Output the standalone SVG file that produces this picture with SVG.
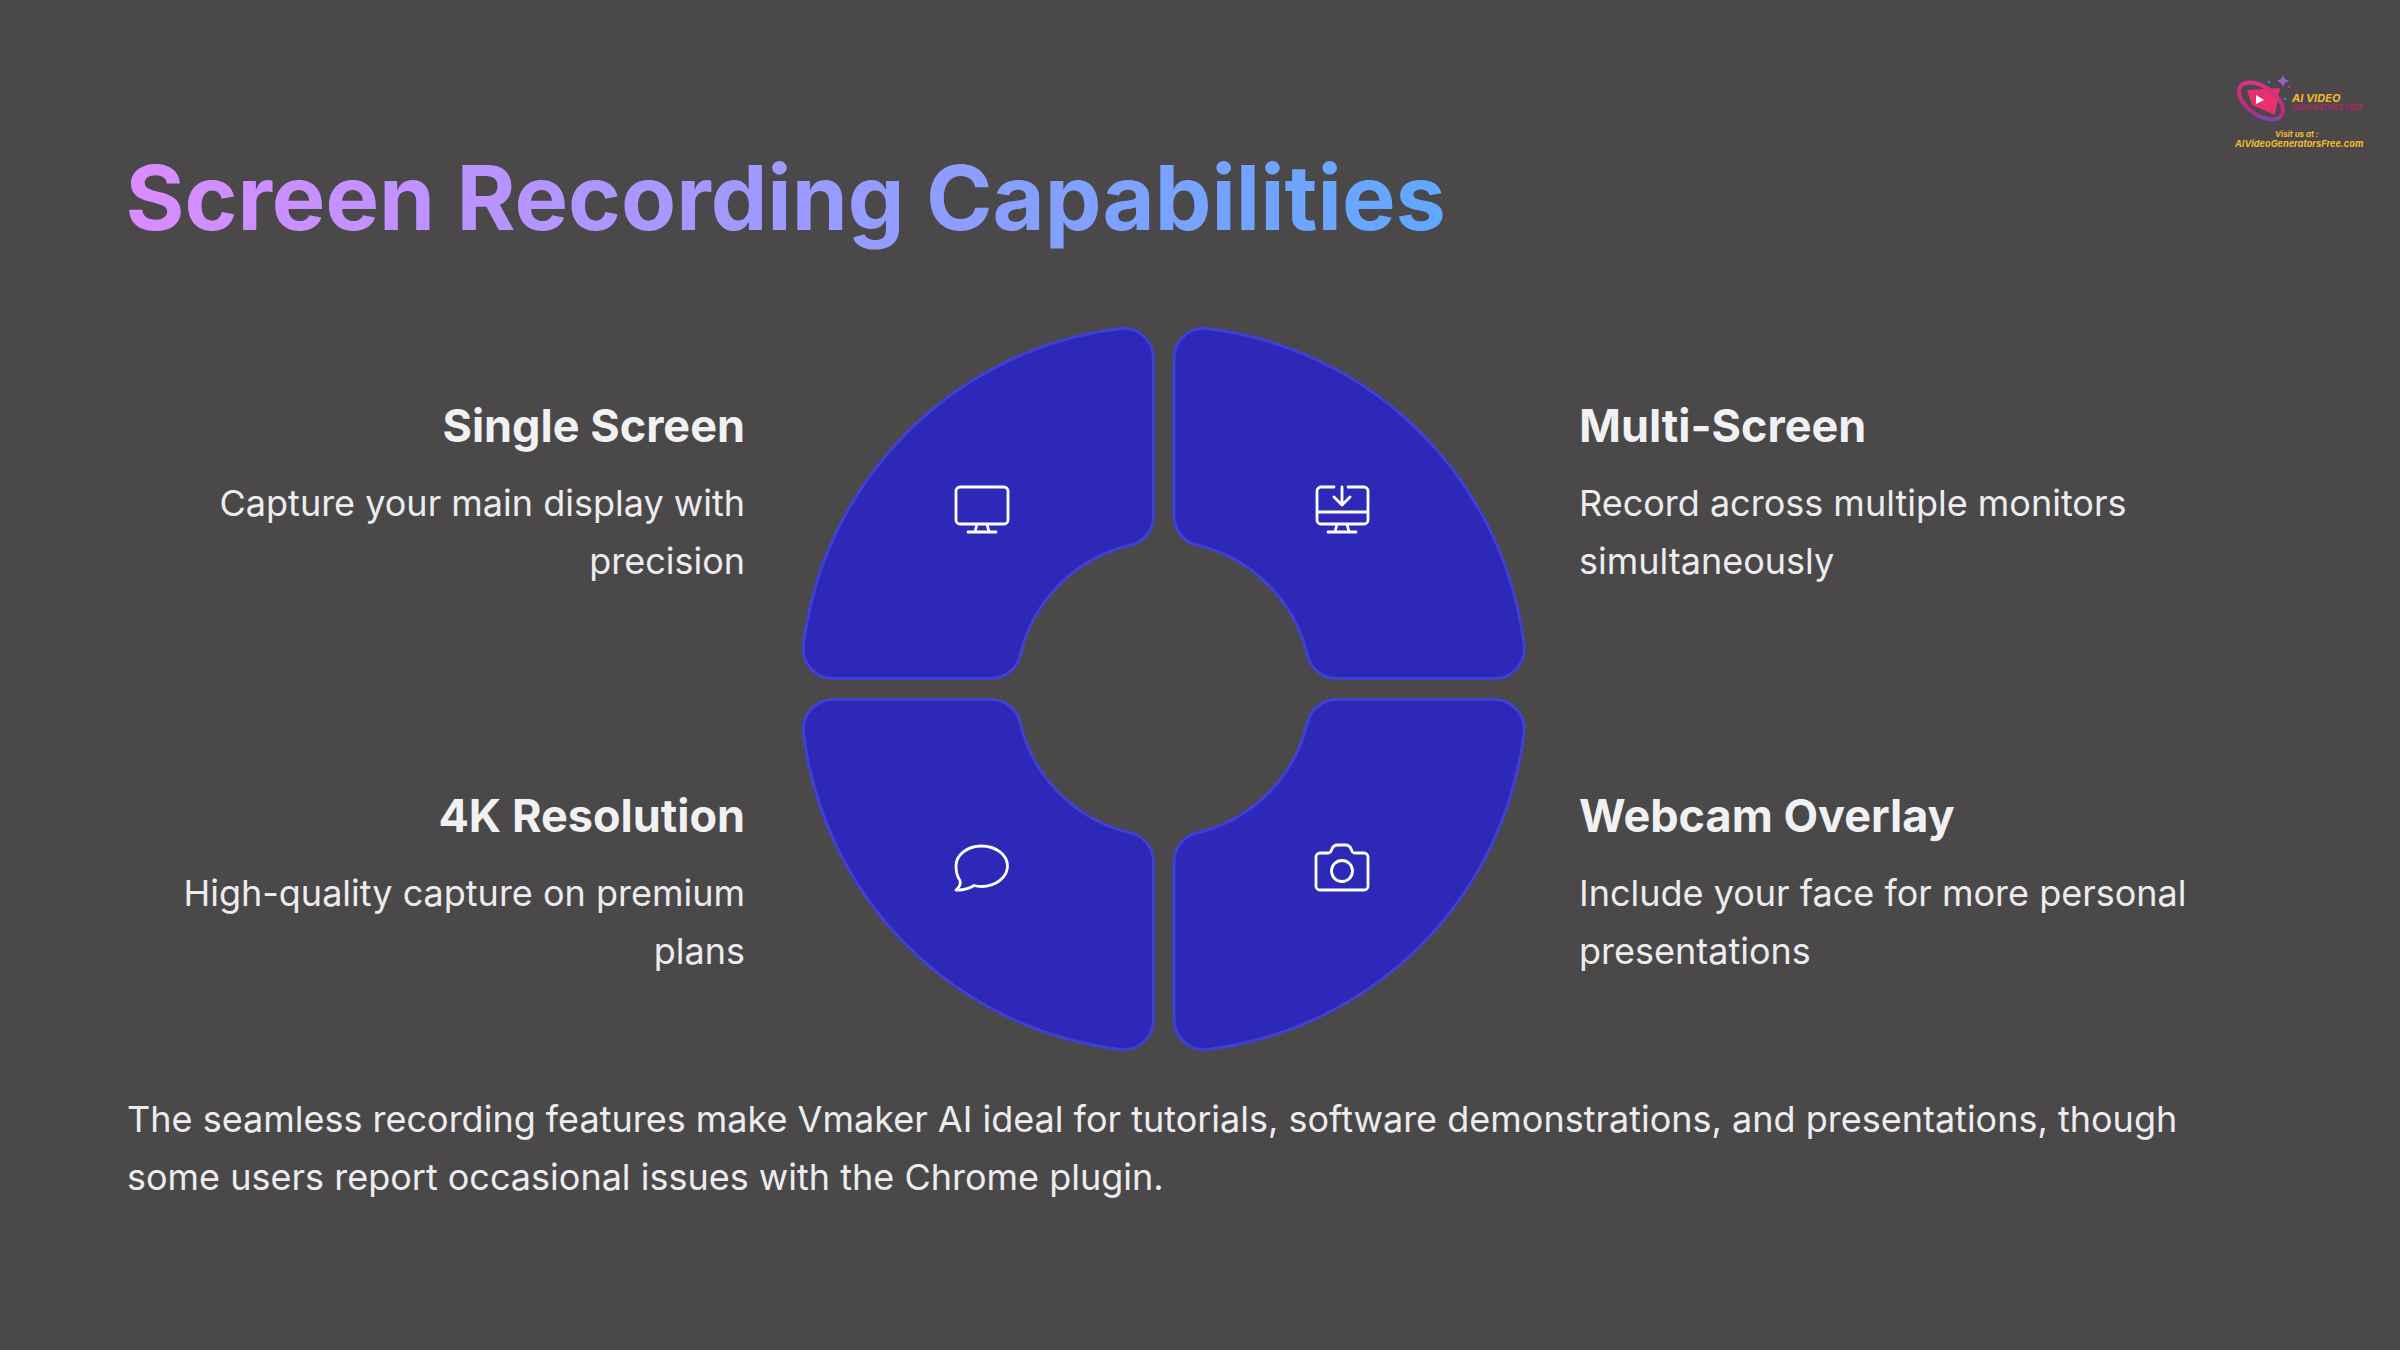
<svg xmlns="http://www.w3.org/2000/svg" width="2400" height="1350" viewBox="0 0 2400 1350">
<defs>
<linearGradient id="tg" gradientUnits="userSpaceOnUse" x1="126" y1="0" x2="1446" y2="0"><stop offset="0" stop-color="#d98cff"/><stop offset="1" stop-color="#60a8ff"/></linearGradient>
<linearGradient id="lg" x1="0" y1="0" x2="1" y2="1"><stop offset="0" stop-color="#e0358a"/><stop offset="0.7" stop-color="#c0287a"/><stop offset="1" stop-color="#4a60d8"/></linearGradient>
<path id="petal" d="M1153.5 358.4V516.1A30 30 0 0 1 1130.3 545.3A147.5 147.5 0 0 0 1020.15 655.35A30 30 0 0 1 990.95 678.5H833.25A30 30 0 0 1 803.45 644.85A363 363 0 0 1 1119.87 328.6A30 30 0 0 1 1153.5 358.4Z"/>
</defs>
<style>
text{font-family:Inter,"Noto Sans","Liberation Sans",sans-serif}
.p{fill:#2e28b8;stroke:#4040d2;stroke-width:3}
.h{font-size:45px;font-weight:650;fill:#f1f1f3}
.b{font-size:36px;font-weight:400;fill:#ececef}
.i{fill:none;stroke:#fff;stroke-width:2.8;stroke-linecap:round;stroke-linejoin:round}
.l{font-style:italic;font-weight:700}
</style>
<rect width="2400" height="1350" fill="#4a4849"/>
<text id="title" x="125.500" y="230" font-size="90" font-weight="700" fill="url(#tg)">Screen Recording Capabilities</text>
<g id="logo">
<path d="M2247 90L2280 88L2275 115L2252 105Z" fill="#e8306e"/>
<ellipse cx="2261" cy="101" rx="25" ry="14" transform="rotate(35 2261 101)" fill="none" stroke="url(#lg)" stroke-width="4"/>
<path d="M2256 95L2264 100L2256 104Z" fill="#fff"/>
<path d="M2283 75l2 4 4 2-4 2-2 4-2-4-4-2 4-2Z" fill="#9b5fc8"/>
<circle cx="2269" cy="82" r="1.200" fill="#4a8ad8"/><circle cx="2289" cy="87" r="1.200" fill="#d8305e"/><circle cx="2285" cy="99" r="1.200" fill="#4a8ad8"/>
<text class="l" x="2292" y="102" font-size="11" fill="#f5b82e">AI VIDEO</text>
<text class="l" x="2292" y="110" font-size="7.500" fill="#a62a5c">GENERATORS FREE</text>
<text class="l" x="2275" y="137" font-size="8" fill="#f5b82e">Visit us at :</text>
<text class="l" x="2235" y="147" font-size="9.200" fill="#f5b82e">AIVideoGeneratorsFree.com</text>
</g>
<g id="single-screen">
<use href="#petal" class="p"/>
<path class="i" d="M960 487h44a4 4 0 0 1 4 4v29a4 4 0 0 1-4 4h-44a4 4 0 0 1-4-4v-29a4 4 0 0 1 4-4ZM977 524l-2 8M987 524l2 8M968 532h28"/>
<text class="h" text-anchor="end" x="745" y="442">Single Screen</text>
<text class="b" text-anchor="end" x="745" y="516">Capture your main display with</text>
<text class="b" text-anchor="end" x="745" y="574">precision</text>
</g>
<g id="multi-screen">
<use href="#petal" class="p" transform="matrix(-1 0 0 1 2327.500 0)"/>
<path class="i" d="M1334 487h-13a4 4 0 0 0-4 4v29a4 4 0 0 0 4 4h43a4 4 0 0 0 4-4v-29a4 4 0 0 0-4-4h-16M1317 512h51M1342 487v18M1334 497l8 8 8-8M1337 524l-2 8M1347 524l2 8M1328 532h28"/>
<text class="h" x="1579" y="442">Multi-Screen</text>
<text class="b" x="1579" y="516">Record across multiple monitors</text>
<text class="b" x="1579" y="574">simultaneously</text>
</g>
<g id="resolution">
<use href="#petal" class="p" transform="matrix(1 0 0 -1 0 1378)"/>
<path class="i" d="M956 866c0-11 11-20 25.500-20s26 9 26 20-11.500 20.500-26 20.500c-2.500 0-5-.3-7.500-1-4 2.500-10 5-18 4.500 3-2.500 5-6 4-9.500-2.500-3.500-4-9-4-14.500Z"/>
<text class="h" text-anchor="end" x="745" y="832">4K Resolution</text>
<text class="b" text-anchor="end" x="745" y="906">High-quality capture on premium</text>
<text class="b" text-anchor="end" x="745" y="964">plans</text>
</g>
<g id="webcam">
<use href="#petal" class="p" transform="matrix(-1 0 0 -1 2327.500 1378)"/>
<path class="i" d="M1321 853h7c2 0 3-1 3.500-3 1-3 3-5 6-5h8c3 0 5 2 6 5 .5 2 1.500 3 3.500 3h9a4 4 0 0 1 4 4v29a4 4 0 0 1-4 4h-44a4 4 0 0 1-4-4v-29a4 4 0 0 1 4-4Z"/>
<circle class="i" cx="1342" cy="871" r="10.500"/>
<text class="h" x="1579" y="832">Webcam Overlay</text>
<text class="b" x="1579" y="906">Include your face for more personal</text>
<text class="b" x="1579" y="964">presentations</text>
</g>
<g id="summary">
<text class="b" x="127" y="1132">The seamless recording features make Vmaker AI ideal for tutorials, software demonstrations, and presentations, though</text>
<text class="b" x="127" y="1190">some users report occasional issues with the Chrome plugin.</text>
</g>
</svg>
